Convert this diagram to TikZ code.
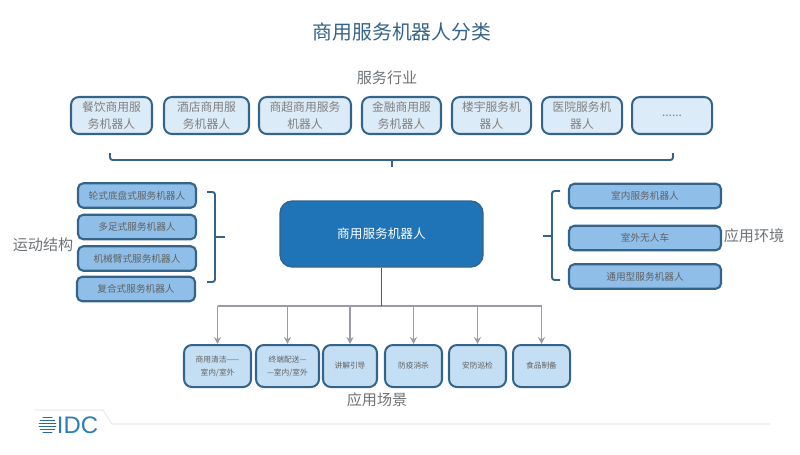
\documentclass[tikz,border=0pt]{standalone}
\usepackage{fontspec}
\setmainfont{Noto Sans CJK SC}
\setsansfont{Liberation Sans}
\usepackage{tikz}
\usetikzlibrary{arrows.meta, positioning, calc}
\definecolor{idcblue}{HTML}{2F7DB5}
\definecolor{framedark}{HTML}{35648A}
\definecolor{linkgrey}{HTML}{9B9BA8}
\definecolor{labelgrey}{HTML}{6F7377}
\definecolor{tradefill}{HTML}{DCEBF8}
\definecolor{motionfill}{HTML}{8FBFE8}
\definecolor{scenefill}{HTML}{C4DFF4}
\definecolor{corefill}{HTML}{1F73B7}
\newcommand{\px}{0.02cm}
\tikzset{
  tagbox/.style={draw=framedark, line width=1.15pt, rounded corners=4.5pt, align=center,
                 inner sep=0pt, minimum height=37*\px},
  trade/.style={tagbox, fill=tradefill, text=black!50, font=\fontsize{6.7}{9.2}\selectfont},
  motion/.style={tagbox, fill=motionfill, text=black!62,
                 minimum height=24.5*\px, rounded corners=3pt, line width=1.2pt,
                 font=\fontsize{5.5}{7}\selectfont},
  scene/.style={tagbox, fill=scenefill, text=black!62, minimum height=42*\px,
                font=\fontsize{4.4}{7.4}\selectfont},
  corebox/.style={draw=framedark, line width=0.8pt, fill=corefill, text=white,
                  rounded corners=7pt, font=\fontsize{7.2}{9}\selectfont,
                  minimum width=203*\px, minimum height=66*\px},
  heading/.style={text=labelgrey, font=\fontsize{8.6}{10}\selectfont, inner sep=0pt},
  brace/.style={framedark, line width=1.1pt, rounded corners=1.5pt},
  feed/.style={linkgrey, line width=0.8pt, -{Stealth[length=4pt,width=4pt]}},
}
\begin{document}
\begin{tikzpicture}[x=\px, y=-\px, >=Stealth]
  \useasboundingbox (0,0) rectangle (800,454);
  % title and group labels
  \node[inner sep=0pt, text=framedark, font=\fontsize{11.3}{13}\selectfont] (title) at (402,32) {商用服务机器人分类};
  \node[heading] (tradehead) at (387,78) {服务行业};
  \node[heading] (motionhead) at (43,245) {运动结构};
  \node[heading] (envhead) at (754,236) {应用环境};
  \node[heading] (scenehead) at (377,400) {应用场景};
  % industry row
  \foreach \name/\cx/\w/\txt in {t1/111.5/81/{餐饮商用服\\务机器人}, t2/206.5/85/{酒店商用服\\务机器人},
      t3/305/92/{商超商用服务\\机器人}, t4/401.5/79/{金融商用服\\务机器人},
      t5/491.5/79/{楼宇服务机\\器人}, t6/582/80/{医院服务机\\器人}, t7/672/80/{......}}{
    \node[trade, minimum width=\w*\px] (\name) at (\cx,115.5) {\txt};
  }
  % motion column
  \foreach \name/\cy/\txt in {m1/195.5/轮式底盘式服务机器人, m2/227/多足式服务机器人,
      m3/258.5/机械臂式服务机器人}{
    \node[motion, minimum width=118*\px] (\name) at (137,\cy) {\txt};
  }
  \node[motion, minimum width=118*\px] (m4) at (136,289) {复合式服务机器人};
  % environment column
  \foreach \name/\cy/\txt in {e1/196/室内服务机器人, e2/238/室外无人车, e3/276.5/通用型服务机器人}{
    \node[motion, minimum width=152*\px] (\name) at (645,\cy) {\txt};
  }
  % centre
  \node[corebox] (core) at (381.5,234) {商用服务机器人};
  % scenario row
  \foreach \name/\cx/\w/\txt in {s1/217.5/67/{商用清洁——\\室内/室外}, s2/287.5/63/{终端配送—\\—室内/室外},
      s3/350/54/讲解引导, s4/413.5/57/防疫消杀, s5/477.5/57/安防巡检, s6/541.5/57/食品制备}{
    \node[scene, minimum width=\w*\px] (\name) at (\cx,366) {\txt};
    \draw[feed] (\name.north |- 0,306) -- (\name.north);
  }
  % bus above scenarios
  \coordinate (bus) at (core.south |- 0,306);
  \draw[linkgrey, line width=0.8pt] (s1.north |- bus) -- (s6.north |- bus);
  \draw[black!65, line width=0.6pt] (core.south) -- (bus);
  % braces
  \coordinate (tradetip) at (392,167);
  \draw[brace] (110,153) -- (110,160) -- (673,160) -- (673,153);
  \draw[brace] (tradetip) -- (392,160);
  \coordinate (motiontip) at (225,237);
  \draw[brace] (207,192) -- (215,192) -- (215,282) -- (207,282);
  \draw[brace] (motiontip) -- (215,237);
  \coordinate (envtip) at (543,236);
  \draw[brace] (560,191) -- (552,191) -- (552,280) -- (560,280);
  \draw[brace] (envtip) -- (552,236);
  % IDC logo
  \draw[black!8, line width=0.6pt] (35,410) -- (103,410) -- (112,424) -- (770,424);
  \begin{scope}
    \clip (47.5,425) circle (9);
    \foreach \yy in {417.5,420.5,423.5,426.5,429.5,432.5}{
      \fill[idcblue!85!black] (37,\yy-1) rectangle (58,\yy+0.9);
    }
  \end{scope}
  \node[inner sep=0pt, text=idcblue, font=\sffamily\fontsize{13.6}{14}\selectfont] (logo) at (77.5,425) {IDC};
\end{tikzpicture}
\end{document}
